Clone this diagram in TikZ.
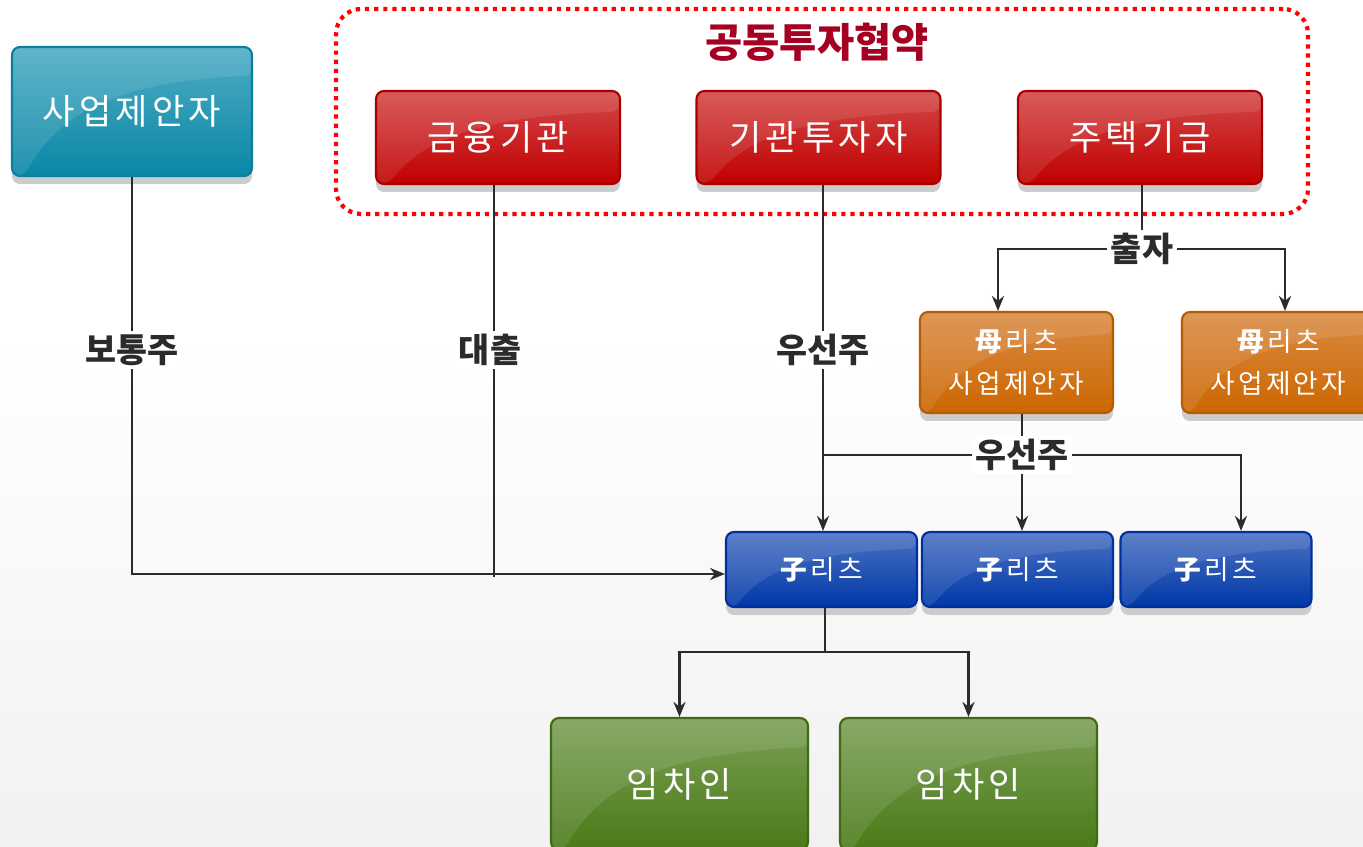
\documentclass[tikz,border=0pt]{standalone}
\usepackage{fontspec}
\setmainfont{Noto Sans CJK KR}
\usetikzlibrary{calc,arrows.meta,shadows}
\definecolor{tealB}{HTML}{0A87A6}\definecolor{tealL}{HTML}{4FACC4}\definecolor{tealD}{HTML}{0B7F9C}
\definecolor{redB}{HTML}{C00000}\definecolor{redL}{HTML}{D44848}\definecolor{redD}{HTML}{A80000}
\definecolor{orgB}{HTML}{CC6600}\definecolor{orgL}{HTML}{DA8B44}\definecolor{orgD}{HTML}{B85A00}
\definecolor{bluB}{HTML}{0038A8}\definecolor{bluL}{HTML}{4B72C2}\definecolor{bluD}{HTML}{0030A0}
\definecolor{grnB}{HTML}{4A7A18}\definecolor{grnL}{HTML}{7CA056}\definecolor{grnD}{HTML}{3E6A12}
\definecolor{titleC}{HTML}{A50021}
\definecolor{lineC}{HTML}{2B2B2B}
\definecolor{bgB}{HTML}{F1F1F1}
\newcommand{\bigtxt}{\fontsize{10}{11}\selectfont\addfontfeature{LetterSpace=12}}
\newcommand{\smalltxt}{\fontsize{7.6}{12}\selectfont\addfontfeature{LetterSpace=12}}
\tikzset{
  gloss/.style={path picture={
    \fill[white,opacity=0.10] let \p1=(path picture bounding box.south west), \p2=(path picture bounding box.north east) in
      (\x1,\y2) -- (\x2,\y2) -- (\x2,{\y2-0.22*(\y2-\y1)})
      .. controls ({\x1+0.45*(\x2-\x1)},{\y2-0.27*(\y2-\y1)}) and ({\x1+0.2*(\x2-\x1)},{\y2-0.5*(\y2-\y1)})
      .. ({\x1+0.05*(\x2-\x1)},\y1) -- (\x1,\y1) -- cycle;
  }},
  box/.style={rounded corners=0.08cm, line width=0.6pt, inner sep=0pt, text=white, align=center,
    drop shadow={shadow xshift=0cm, shadow yshift=-0.08cm, fill=black!20, opacity=1}, gloss},
  tealbox/.style={box, draw=tealD, top color=tealL, middle color=tealB, bottom color=tealB,
    minimum width=2.40cm, minimum height=1.29cm, font=\bigtxt},
  redbox/.style={box, draw=redD, top color=redL, middle color=redB, bottom color=redB,
    minimum width=2.44cm, minimum height=0.93cm, font=\bigtxt},
  orgbox/.style={box, draw=orgD, top color=orgL, middle color=orgB, bottom color=orgB,
    minimum width=1.93cm, minimum height=1.01cm, font=\smalltxt},
  blubox/.style={box, draw=bluD, top color=bluL, middle color=bluB, bottom color=bluB,
    minimum width=1.91cm, minimum height=0.75cm, font=\smalltxt},
  grnbox/.style={box, draw=grnD, top color=grnL, middle color=grnB, bottom color=grnB,
    minimum width=2.57cm, minimum height=1.32cm, font=\bigtxt},
  conn/.style={draw=lineC, line width=0.7pt},
  arr/.style={-{Stealth[length=0.15cm,width=0.12cm]}},
  lbl/.style={fill=white, text=lineC, inner sep=1pt, font=\fontsize{9.6}{10}\selectfont\bfseries},
  frame/.style={draw=red, line width=1.2pt, dash pattern=on 1.2pt off 1.4pt, rounded corners=0.25cm}
}
\begin{document}
\begin{tikzpicture}
\useasboundingbox (0,0) rectangle (13.63,-8.47);
\clip (0,0) rectangle (13.63,-8.47);
\fill[white] (0,0) rectangle (13.63,-3.3);
\shade[top color=white, bottom color=bgB] (0,-3.3) rectangle (13.63,-8.47);

% frame and title
\node[frame, minimum width=9.72cm, minimum height=2.05cm] (frm) at (8.22,-1.115) {};
\node[text=titleC, font=\fontsize{11.5}{12}\selectfont\bfseries] (title) at (8.17,-0.42) {공동투자협약};

% boxes
\node[tealbox] (sp) at (1.32,-1.115) {사업제안자};
\node[redbox] (fin) at (4.98,-1.375) {금융기관};
\node[redbox] (inv) at (8.185,-1.375) {기관투자자};
\node[redbox] (fund) at (11.40,-1.375) {주택기금};
\node[orgbox] (o1) at (10.165,-3.625) {\textbf{母}리츠\\사업제안자};
\node[orgbox] (o2) at (12.785,-3.625) {\textbf{母}리츠\\사업제안자};
\node[blubox] (b1) at (8.215,-5.695) {\textbf{子}리츠};
\node[blubox] (b2) at (10.175,-5.695) {\textbf{子}리츠};
\node[blubox] (b3) at (12.16,-5.695) {\textbf{子}리츠};
\node[grnbox] (g1) at (6.795,-7.84) {임차인};
\node[grnbox] (g2) at (9.685,-7.84) {임차인};

% connectors
\coordinate (w1) at ($(b1.west)+(0,-0.045)$);
\draw[conn,arr] (sp.south) |- (w1);
\draw[conn] ($(fin.south)+(-0.04,0)$) -- ($(fin.south |- w1)+(-0.04,-0.03)$);
\coordinate (t1) at ($(b1.north)+(0.015,0)$);
\draw[conn,arr] (inv.south -| t1) -- (t1);

\coordinate (j1) at ($(fund.south)+(0.02,-0.64)$);
\draw[conn] ($(fund.south)+(0.02,0)$) -- (j1);
\draw[conn,arr] (j1) -| ($(o1.north)+(-0.185,0)$);
\draw[conn,arr] (j1) -| ($(o2.north)+(0.065,0)$);

\coordinate (j2) at ($(o1.south)+(0.055,-0.41)$);
\draw[conn] ($(o1.south)+(0.055,0)$) -- (j2);
\coordinate (t3) at ($(b3.north)+(0.25,0)$);
\draw[conn,arr] (t1 |- j2) -| (t3);
\draw[conn,arr] (j2) -- (j2 |- b2.north);

\coordinate (j3) at ($(b1.south)+(0.035,-0.44)$);
\draw[conn] ($(b1.south)+(0.035,0)$) -- (j3);
\draw[conn,arr] (j3) -| (g1.north);
\draw[conn,arr] (j3) -| (g2.north);

% labels
\node[lbl] (l1) at (1.32,-3.5) {보통주};
\node[lbl] (l2) at (4.90,-3.5) {대출};
\node[lbl] (l3) at (8.23,-3.5) {우선주};
\node[lbl] (l4) at (j1) {출자};
\node[lbl] (l5) at (j2) {우선주};
\end{tikzpicture}
\end{document}
